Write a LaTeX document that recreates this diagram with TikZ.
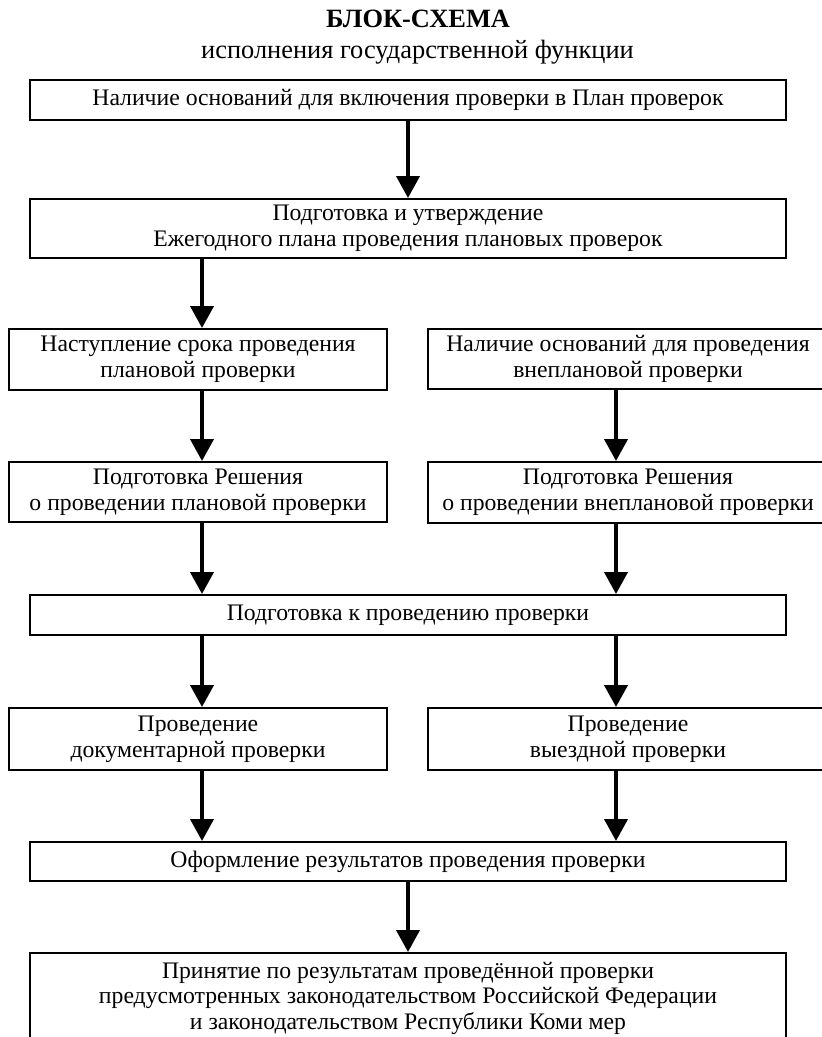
\documentclass[tikz,border=0pt]{standalone}
\usepackage{fontspec}
\setmainfont{Liberation Serif}
\usetikzlibrary{arrows.meta}
\begin{document}
\begin{tikzpicture}[x=1pt,y=1pt,
  box/.style={draw, line width=2pt, inner sep=0pt, align=center,
    font=\fontsize{23.7pt}{26pt}\selectfont},
  ttl/.style={inner sep=0pt, align=center, font=\fontsize{26.4pt}{30pt}\selectfont},
  btxt/.style={inner sep=0pt, align=center, font=\fontsize{23.7pt}{25.5pt}\selectfont},
  arr/.style={line width=4pt, -{Triangle[length=22pt,width=23pt]}}]
\useasboundingbox (0,0) rectangle (822,-1037);
\clip (0,0) rectangle (822,-1037);
\node[ttl, font=\fontsize{26.4pt}{30pt}\selectfont\bfseries, anchor=base] (t1) at (418,-27) {БЛОК-СХЕМА};
\node[ttl, anchor=base] (t2) at (417.5,-58) {исполнения государственной функции};
% boxes
\node[box, minimum width=756pt, minimum height=40pt] (b1) at (408,-100)
  {Наличие оснований для включения проверки в План проверок};
\node[box, minimum width=756pt, minimum height=59pt] (b2) at (408,-228.5)
  {Подготовка и утверждение\\Ежегодного плана проведения плановых проверок};
\node[box, minimum width=378pt, minimum height=61pt] (b3L) at (198,-359.5)
  {Наступление срока проведения\\плановой проверки};
\node[box, minimum width=400pt, minimum height=60pt] (b3R) at (628,-359)
  {Наличие оснований для проведения\\внеплановой проверки};
\node[box, minimum width=378pt, minimum height=60pt] (b4L) at (198,-492)
  {Подготовка Решения\\о проведении плановой проверки};
\node[box, minimum width=400pt, minimum height=61pt] (b4R) at (628,-492.5)
  {Подготовка Решения\\о проведении внеплановой проверки};
\node[box, minimum width=756pt, minimum height=40pt] (b5) at (408,-615)
  {Подготовка к проведению проверки};
\node[box, minimum width=378pt, minimum height=62pt] (b6L) at (198,-739)
  {Проведение\\документарной проверки};
\node[box, minimum width=400pt, minimum height=62pt] (b6R) at (628,-739)
  {Проведение\\выездной проверки};
\node[box, minimum width=756pt, minimum height=39pt] (b7) at (408,-861.5)
  {Оформление результатов проведения проверки};
\node[box, minimum width=756pt, minimum height=98pt, anchor=north] (b8) at (408,-952) {};
\node[btxt, anchor=base] (b8t) at (408,-1029)
  {Принятие по результатам проведённой проверки\\предусмотренных законодательством Российской Федерации\\и законодательством Республики Коми мер};
% arrow columns
\coordinate (cM) at (408,0);
\coordinate (cL) at (202,0);
\coordinate (cR) at (616,0);
\draw[arr] (b1.south -| cM) -- (b2.north -| cM);
\draw[arr] (b2.south -| cL) -- (b3L.north -| cL);
\draw[arr] (b3L.south -| cL) -- (b4L.north -| cL);
\draw[arr] (b3R.south -| cR) -- (b4R.north -| cR);
\draw[arr] (b4L.south -| cL) -- (b5.north -| cL);
\draw[arr] (b4R.south -| cR) -- (b5.north -| cR);
\draw[arr] (b5.south -| cL) -- (b6L.north -| cL);
\draw[arr] (b5.south -| cR) -- (b6R.north -| cR);
\draw[arr] (b6L.south -| cL) -- (b7.north -| cL);
\draw[arr] (b6R.south -| cR) -- (b7.north -| cR);
\draw[arr] (b7.south -| cM) -- (b8.north -| cM);
\end{tikzpicture}
\end{document}
